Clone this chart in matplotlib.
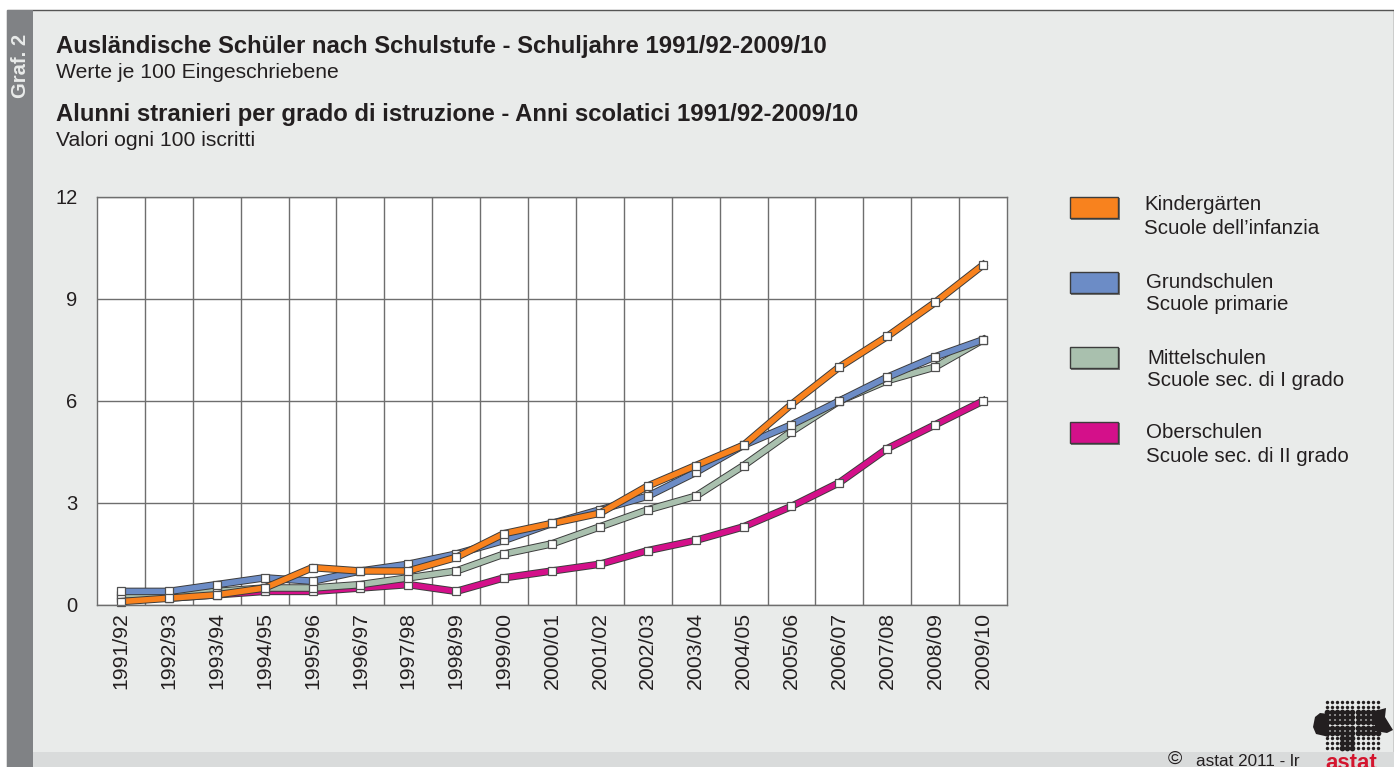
import numpy as np
import matplotlib
matplotlib.use("Agg")
import matplotlib.pyplot as plt
import matplotlib.patheffects as pe
from matplotlib.patches import Rectangle, Polygon

plt.rcParams['font.family'] = ['Liberation Sans', 'DejaVu Sans']

years = ["1991/92", "1992/93", "1993/94", "1994/95", "1995/96", "1996/97", "1997/98",
         "1998/99", "1999/00", "2000/01", "2001/02", "2002/03", "2003/04", "2004/05",
         "2005/06", "2006/07", "2007/08", "2008/09", "2009/10"]
kinder = [0.1, 0.2, 0.3, 0.5, 1.1, 1.0, 1.0, 1.4, 2.1, 2.4, 2.7, 3.5, 4.1, 4.7, 5.9, 7.0, 7.9, 8.9, 10.0]
grund = [0.4, 0.4, 0.6, 0.8, 0.7, 1.0, 1.2, 1.5, 1.9, 2.4, 2.8, 3.2, 3.9, 4.7, 5.3, 6.0, 6.7, 7.3, 7.8]
mittel = [0.3, 0.3, 0.4, 0.5, 0.5, 0.6, 0.8, 1.0, 1.5, 1.8, 2.3, 2.8, 3.2, 4.1, 5.1, 6.0, 6.6, 7.0, 7.8]
ober = [0.2, 0.2, 0.3, 0.4, 0.4, 0.5, 0.6, 0.4, 0.8, 1.0, 1.2, 1.6, 1.9, 2.3, 2.9, 3.6, 4.6, 5.3, 6.0]
yticks = [0, 3, 6, 9, 12]

orange = '#f8821e'
blue = '#6c8cc6'
green = '#a9c0ae'
magenta = '#d4108a'
dark = '#3c3c3c'
text_col = '#231f20'

W, H = 1394, 767
fig = plt.figure(figsize=(W / 100, H / 100), dpi=100, facecolor='white')

# background layer in pixel coordinates
bg = fig.add_axes([0, 0, 1, 1])
bg.set_xlim(0, W)
bg.set_ylim(H, 0)
bg.axis('off')
bg.add_patch(Rectangle((7, 10), W - 7, H - 10, fc='#e9ebea', ec='#555555', lw=1))
bg.add_patch(Rectangle((33, 752), W - 33, 15, fc='#d9dbdb', ec='none'))
bg.add_patch(Rectangle((7, 10), 26, H - 10, fc='#808285', ec='none'))
bg.text(21, 66, "Graf. 2", color='#e9ebea', fontsize=14.5, fontweight='bold', rotation=90,
        ha='center', va='center')

bg.text(56, 46, "Ausländische Schüler nach Schulstufe - Schuljahre 1991/92-2009/10",
        fontsize=17.2, fontweight='bold', color=text_col, va='center')
bg.text(56, 72, "Werte je 100 Eingeschriebene", fontsize=15.2, color=text_col, va='center')
bg.text(56, 114, "Alunni stranieri per grado di istruzione - Anni scolatici 1991/92-2009/10",
        fontsize=17.2, fontweight='bold', color=text_col, va='center')
bg.text(56, 140, "Valori ogni 100 iscritti", fontsize=15.2, color=text_col, va='center')

# legend
legend_rows = [
    (1070, 197, orange, 1144, 204, 228, "Kindergärten", "Scuole dell’infanzia"),
    (1070, 272, blue, 1146, 281, 304, "Grundschulen", "Scuole primarie"),
    (1070, 347, green, 1147, 357, 380, "Mittelschulen", "Scuole sec. di I grado"),
    (1070, 422, magenta, 1146, 431, 455, "Oberschulen", "Scuole sec. di II grado"),
]
for bx, by, col, tx, t1, t2, de, it in legend_rows:
    bg.add_patch(Rectangle((bx + 1, by + 1), 49, 22, fc='#77797a', ec='none'))
    bg.add_patch(Rectangle((bx, by), 48, 21, fc=col, ec=dark, lw=1))
    bg.text(tx, t1 + 1, de, fontsize=14.8, color=text_col, va='center')
    bg.text(tx, t2 + 1, it, fontsize=14.8, color=text_col, va='center')

# footer and logo
bg.text(1168, 764, "©", fontsize=14, color=text_col, va='baseline')
bg.text(1196, 766, "astat 2011 - lr", fontsize=12.3, color=text_col, va='baseline')
gx, gy = np.meshgrid(np.arange(1327, 1379, 5.1), np.arange(702, 752, 5.1))
core = ((gy > 708) & (gy < 737)) | ((gy >= 737) & (gx > 1338) & (gx < 1356))
bg.scatter(gx[~core], gy[~core], s=6, c='#231f20', lw=0)
bg.scatter(gx[core], gy[core], s=17, c='#231f20', lw=0)
bg.add_patch(Polygon([(1329, 714), (1320, 713), (1315, 717), (1313, 727), (1316, 734), (1329, 737)],
                     fc='#231f20', ec='none'))
bg.add_patch(Polygon([(1375, 711), (1386, 708), (1385, 717), (1393, 730), (1387, 733), (1375, 731)],
                     fc='#231f20', ec='none'))
bg.text(1351, 769, "astat", fontsize=16, fontweight='bold', color='#d3152e', ha='center', va='baseline')

# chart
ax = fig.add_axes([97 / W, 1 - 605 / H, 910 / W, 408 / H], facecolor='white')
x = np.arange(len(years))
ax.set_xlim(-0.5, len(years) - 0.5)
ax.set_ylim(0, 12)
ax.set_yticks(yticks)
ax.set_xticks(x)
ax.set_xticklabels(years, rotation=90, fontsize=15.3, color=text_col)
ax.set_xticks(x[:-1] + 0.5, minor=True)
ax.tick_params(axis='x', which='major', length=0, pad=5)
ax.tick_params(axis='x', which='minor', length=0)
ax.tick_params(axis='y', length=0, pad=14, labelsize=14.5, labelcolor=text_col)
ax.grid(True, which='minor', axis='x', color='#6e6e6e', lw=1)
ax.grid(True, which='major', axis='y', color='#6e6e6e', lw=1)
ax.set_axisbelow(True)
for s in ax.spines.values():
    s.set_color('#6e6e6e')
    s.set_linewidth(1)

for vals, col in [(ober, magenta), (mittel, green), (grund, blue), (kinder, orange)]:
    ax.plot(x, vals, color=col, lw=4.0, solid_joinstyle='miter', clip_on=False,
            path_effects=[pe.Stroke(linewidth=5.4, foreground=dark), pe.Normal()])
    ax.plot(x, vals, ls='none', marker='s', ms=6, mfc='white', mec='#505050', mew=0.9, clip_on=False)

fig.savefig("out.png", dpi=100, facecolor=fig.get_facecolor())
